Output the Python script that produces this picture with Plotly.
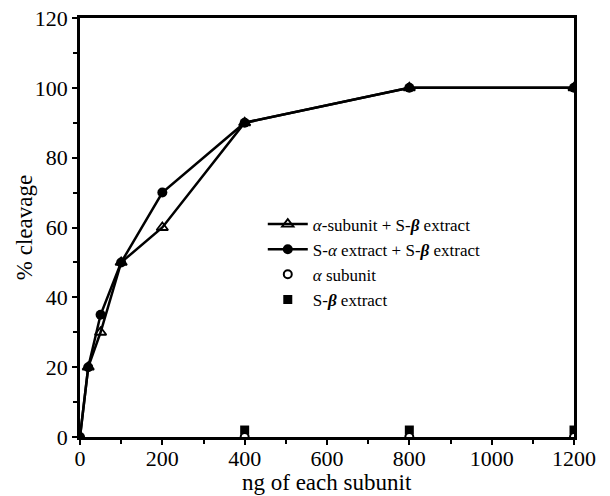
import plotly.graph_objects as go

x_vals = [0, 20, 50, 100, 200, 400, 800, 1200]
tri_y = [0, 20, 30, 50, 60, 90, 100, 100]
circ_y = [0, 20, 35, 50, 70, 90, 100, 100]

ctrl_x = [400, 800, 1200]
alpha_y = [0, 0, 0]
beta_y = [2, 2, 2]

x_title = "ng of each subunit"
y_title = "% cleavage"

font = "Liberation Serif, Times New Roman, serif"

fig = go.Figure()
fig.add_trace(go.Scatter(
    x=x_vals, y=tri_y, mode="lines+markers", legendrank=1,
    name="<i>α</i>-subunit + S-<i><b>β</b></i> extract",
    line=dict(color="black", width=2.5),
    marker=dict(symbol="triangle-up-open", size=10, color="black", line=dict(width=1.8)),
))
fig.add_trace(go.Scatter(
    x=x_vals, y=circ_y, mode="lines+markers", legendrank=2,
    name="S-<i>α</i> extract + S-<i><b>β</b></i> extract",
    line=dict(color="black", width=2.5),
    marker=dict(symbol="circle", size=10, color="black"),
))
fig.add_trace(go.Scatter(
    x=ctrl_x, y=beta_y, mode="markers", legendrank=4,
    name="S-<i><b>β</b></i> extract",
    marker=dict(symbol="square", size=9, color="black"),
))
fig.add_trace(go.Scatter(
    x=ctrl_x, y=alpha_y, mode="markers", legendrank=3,
    name="<i>α</i> subunit",
    marker=dict(symbol="circle", size=8, color="white", line=dict(color="black", width=2)),
))

fig.update_layout(
    width=610, height=496,
    margin=dict(l=80, r=36, t=18, b=59),
    paper_bgcolor="white", plot_bgcolor="white",
    font=dict(family=font, color="black"),
    showlegend=True,
    legend=dict(
        x=0.37, y=0.55, xanchor="left", yanchor="top",
        bgcolor="rgba(0,0,0,0)", font=dict(size=17, family=font),
        traceorder="normal", tracegroupgap=0, itemwidth=40,
    ),
    xaxis=dict(
        range=[0, 1200], tickvals=[0, 200, 400, 600, 800, 1000, 1200],
        ticks="outside", ticklen=5, tickwidth=2, tickcolor="black",
        minor=dict(tickvals=[100, 300, 500, 700, 900, 1100], ticks="outside", ticklen=4, tickwidth=2, tickcolor="black"),
        showline=True, linecolor="black", linewidth=2.5, mirror=True,
        showgrid=False, zeroline=False, automargin=False,
        tickfont=dict(size=22, family=font), ticklabelstandoff=-5,
    ),
    yaxis=dict(
        range=[0, 120], tickvals=[0, 20, 40, 60, 80, 100, 120],
        ticks="outside", ticklen=5, tickwidth=2, tickcolor="black",
        minor=dict(tickvals=[10, 30, 50, 70, 90, 110], ticks="outside", ticklen=4, tickwidth=2, tickcolor="black"),
        showline=True, linecolor="black", linewidth=2.5, mirror=True,
        showgrid=False, zeroline=False, automargin=False,
        tickfont=dict(size=22, family=font),
    ),
    annotations=[
        dict(text=x_title, xref="paper", yref="paper", x=0.5, y=-0.108,
             xanchor="center", yanchor="middle", showarrow=False,
             font=dict(size=23, family=font)),
        dict(text=y_title, xref="paper", yref="paper", x=-0.112, y=0.5,
             xanchor="center", yanchor="middle", textangle=-90, showarrow=False,
             font=dict(size=23, family=font)),
    ],
)

fig.write_html("out.html", config={"displayModeBar": False},
               post_script="document.body.style.margin='0px';")
